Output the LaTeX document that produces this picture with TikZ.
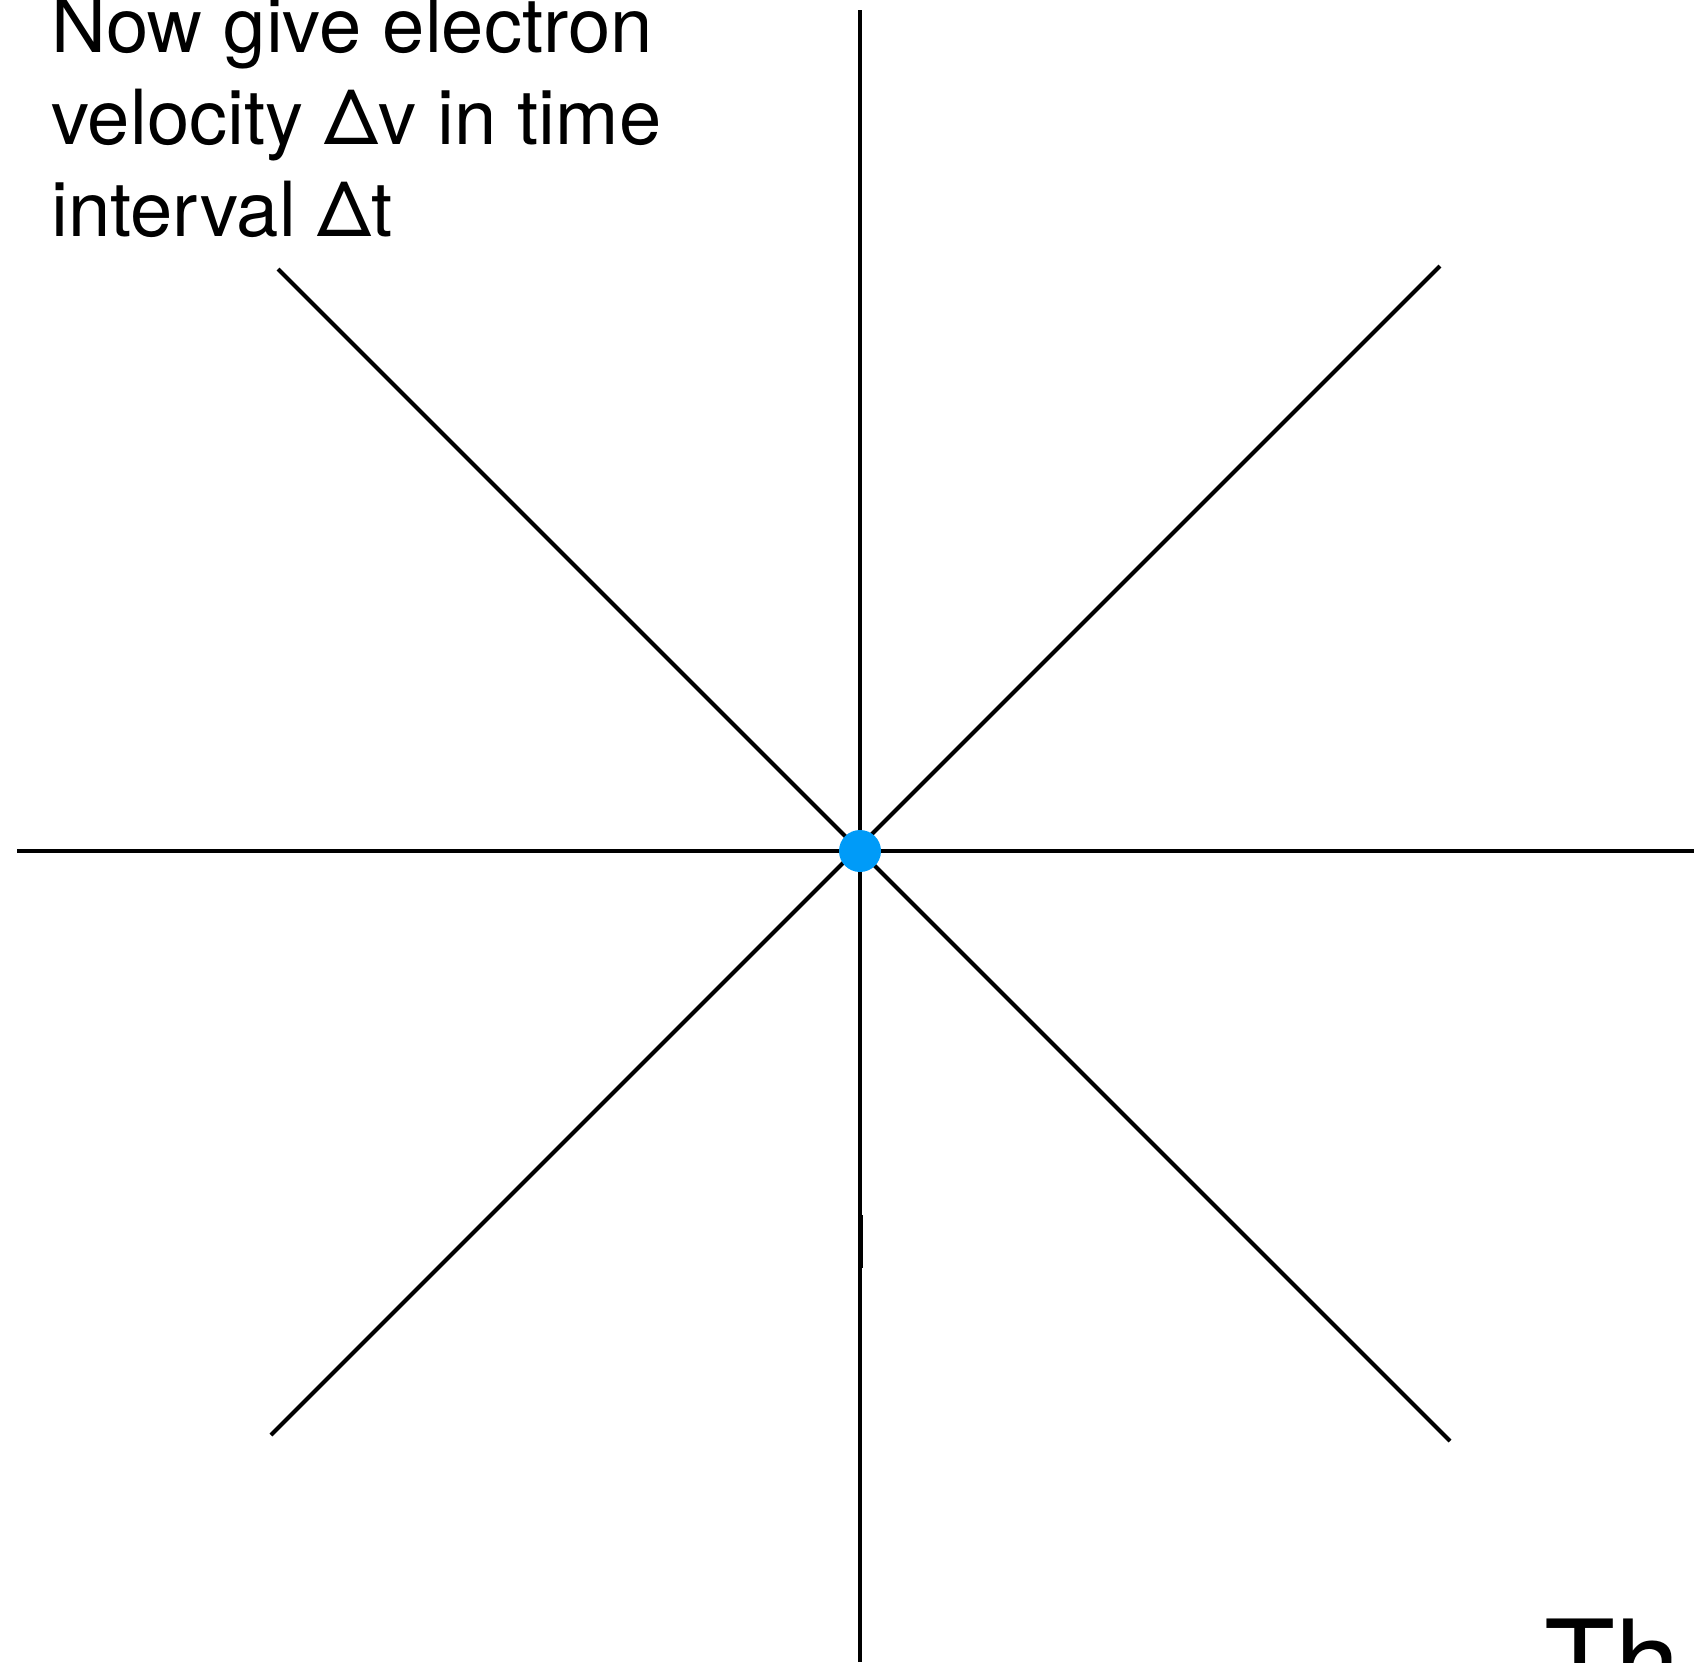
\documentclass[tikz,border=0pt]{standalone}
\usepackage{fontspec}
\setmainfont{TeX Gyre Heros}
\usepackage{xcolor}
\usetikzlibrary{positioning}
\definecolor{dotblue}{RGB}{0,155,248}

\begin{document}
\begin{tikzpicture}[x=0.5pt, y=-0.5pt,
    axis/.style={line width=2pt, black},
    dot/.style={circle, fill=dotblue, inner sep=0pt, minimum size=21pt},
    note/.style={align=left, inner sep=0pt, font=\fontsize{38}{46}\selectfont}
  ]
    \useasboundingbox (0,0) rectangle (1694,1662);
    \clip (0,0) rectangle (1694,1662);
    % end points of the lines
    \coordinate (o)   at (860,851);
    \coordinate (top) at (860,10);
    \coordinate (bot) at (860,1662);
    \coordinate (lft) at (17,851);
    \coordinate (rgt) at (1694,851);
    \coordinate (ul)  at (278,269);
    \coordinate (lr)  at (1450,1441);
    \coordinate (ur)  at (1440,266);
    \coordinate (ll)  at (271,1435);
    \coordinate (s1)  at (860.4,1215);
    \coordinate (s2)  at (860.4,1268);
    % lines
    \draw[axis] (top) -- (bot);
    \draw[axis] (lft) -- (rgt);
    \draw[axis] (ul) -- (lr);
    \draw[axis] (ur) -- (ll);
    \draw[axis, line width=2.4pt] (s1) -- (s2);
    \node[dot] (e) at (o) {};
    % texts
    \node[note, anchor=north west] (txt) at (51,-3)
      {Now give electron\\velocity Δv in time\\interval Δt};
    \node[anchor=base west, inner sep=0pt,
          font=\fontsize{58}{58}\selectfont] (th) at (1544,1703) {Th};
\end{tikzpicture}
\end{document}
